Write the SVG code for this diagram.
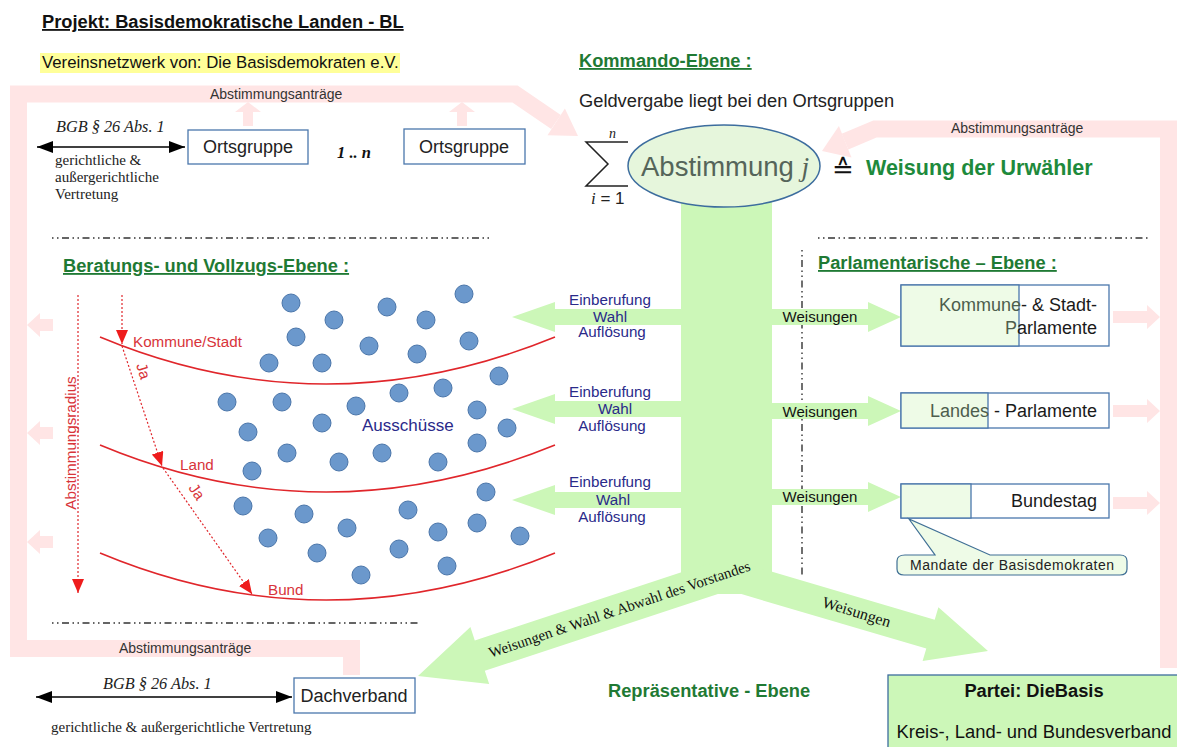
<svg xmlns="http://www.w3.org/2000/svg" width="1177" height="747" viewBox="0 0 1177 747">
<defs>
<style>
.sans{font-family:"Liberation Sans",Arial,sans-serif}
.serif{font-family:"Liberation Serif","Times New Roman",serif}
.head{font-family:"Liberation Sans",Arial,sans-serif;font-weight:bold;fill:#1f7a34;font-size:18.3px}
.ul{text-decoration:underline}
.pink{fill:#ffe5e5}
.pinkline{fill:none;stroke:#ffe5e5;stroke-width:17;stroke-linejoin:miter}
.green{fill:#ccf7b8}
.sep{stroke:#333;stroke-width:1.4;stroke-dasharray:1.5 3.5 1.5 3.5 7 3.5;fill:none}
.box{fill:#fff;stroke:#4b77ac;stroke-width:1.3}
.gbox{fill:#eefbe7;stroke:#4b77ac;stroke-width:1.3}
.dot{fill:#6b98cc;stroke:#4b76aa;stroke-width:1}
.red{fill:none;stroke:#e0262b;stroke-width:1.6}
.reddot{fill:none;stroke:#e0262b;stroke-width:1.2;stroke-dasharray:2 2}
.redtxt{fill:#d8343a;font-family:"Liberation Sans",Arial,sans-serif;font-size:15.2px}
.navy{fill:#2a2a8a;font-family:"Liberation Sans",Arial,sans-serif;font-size:15.2px;text-anchor:middle}
.pinktxt{font-family:"Liberation Sans",Arial,sans-serif;font-size:14px;fill:#333}
.blk{fill:none;stroke:#000;stroke-width:1.5}
</style>
<marker id="bh" viewBox="0 0 16 12" refX="16" refY="6" markerWidth="16" markerHeight="12" markerUnits="userSpaceOnUse" orient="auto-start-reverse"><path d="M0,0 L16,6 L0,12 Z" fill="#000"/></marker>
<marker id="rh" viewBox="0 0 14 12" refX="14" refY="6" markerWidth="14" markerHeight="12" markerUnits="userSpaceOnUse" orient="auto"><path d="M0,0 L14,6 L0,12 Z" fill="#ee1c1c"/></marker>
</defs>

<!-- pink feedback bands -->
<g id="pink-bands">
<polyline class="pinkline" points="556,122 515,94 18.5,94 18.5,648.5 351.5,648.5 351.5,675"/>
<polygon class="pink" points="578,136 547.5,135.2 564.9,108.4"/>
<polyline class="pinkline" points="1168.5,668 1168.5,129 875,129 845,141.7"/>
<polygon class="pink" points="822,151 851.5,157.5 838.9,125.9"/>
<path class="pink" d="M243,126 V112 H235 L248,102 L261,112 H253 V126 Z"/>
<path class="pink" d="M457,126 V112 H449 L462,102 L475,112 H467 V126 Z"/>
<path class="pink" d="M53,319 H40 V313 L27,325 L40,337 V331 H53 Z"/>
<path class="pink" d="M53,427 H40 V421 L27,433 L40,445 V439 H53 Z"/>
<path class="pink" d="M53,536 H40 V530 L27,542 L40,554 V548 H53 Z"/>
<path class="pink" d="M1113,311 H1147 V305 L1160,317 L1147,329 V323 H1113 Z"/>
<path class="pink" d="M1113,405 H1147 V399 L1160,411 L1147,423 V417 H1113 Z"/>
<path class="pink" d="M1113,497 H1147 V491 L1160,503 L1147,515 V509 H1113 Z"/>
<text class="pinktxt" x="210" y="99">Abstimmungsanträge</text>
<text class="pinktxt" x="951" y="133">Abstimmungsanträge</text>
<text class="pinktxt" x="119" y="653">Abstimmungsanträge</text>
</g>

<!-- header texts -->
<g id="header">
<text class="sans ul" x="42" y="28" font-size="18.3" font-weight="bold" fill="#111">Projekt: Basisdemokratische Landen - BL</text>
<rect x="40" y="53" width="360" height="20" fill="#ffff99"/>
<text class="sans" x="42" y="68" font-size="16.8" fill="#111">Vereinsnetzwerk von: Die Basisdemokraten e.V.</text>
<text class="head ul" x="579" y="67">Kommando-Ebene :</text>
<text class="sans" x="579" y="107" font-size="18.3" fill="#222">Geldvergabe liegt bei den Ortsgruppen</text>
</g>

<!-- separators -->
<g id="separators">
<line class="sep" x1="52" y1="238" x2="492" y2="238"/>
<line class="sep" x1="818" y1="238" x2="1150" y2="238"/>
<line class="sep" x1="52" y1="623" x2="420" y2="623"/>
<line class="sep" x1="802" y1="250" x2="802" y2="575"/>
</g>

<!-- green connectors -->
<g id="connectors">
<rect class="green" x="681" y="200" width="91" height="394"/>
<polygon class="green" points="418,676 470.4,627.1 474.8,640.4 709.4,563.1 719.4,593.5 484.8,670.8 489.2,684.1"/>
<polygon class="green" points="988,651 938.4,607.2 934.7,619.7 744.8,563.8 736.4,592.6 926.3,648.5 922.6,661"/>
<path class="green" d="M681,309 H555 V302 L512,317 L555,332 V325 H681 Z"/>
<path class="green" d="M681,401 H555 V394 L512,409 L555,424 V417 H681 Z"/>
<path class="green" d="M681,492 H555 V485 L512,500 L555,515 V508 H681 Z"/>
<path class="green" d="M772,309 H868 V302 L901,317 L868,332 V325 H772 Z"/>
<path class="green" d="M772,403 H868 V396 L901,411 L868,426 V419 H772 Z"/>
<path class="green" d="M772,489 H868 V482 L901,497 L868,512 V505 H772 Z"/>
<text class="navy" x="610" y="305">Einberufung</text>
<text class="navy" x="610" y="322">Wahl</text>
<text class="navy" x="612" y="337">Auflösung</text>
<text class="navy" x="610" y="397">Einberufung</text>
<text class="navy" x="615" y="414">Wahl</text>
<text class="navy" x="612" y="431">Auflösung</text>
<text class="navy" x="610" y="487">Einberufung</text>
<text class="navy" x="613" y="505">Wahl</text>
<text class="navy" x="612" y="522">Auflösung</text>
<text class="sans" x="820" y="322" font-size="15" text-anchor="middle" fill="#111">Weisungen</text>
<text class="sans" x="820" y="417" font-size="15" text-anchor="middle" fill="#111">Weisungen</text>
<text class="sans" x="820" y="502" font-size="15" text-anchor="middle" fill="#111">Weisungen</text>
<text class="serif" transform="translate(621,614) rotate(-18.6)" font-size="15" text-anchor="middle" fill="#111">Weisungen &amp; Wahl &amp; Abwahl des Vorstandes</text>
<text class="serif" transform="translate(855,617) rotate(17)" font-size="16" text-anchor="middle" fill="#111">Weisungen</text>
</g>

<!-- Abstimmung node -->
<g id="abstimmung">
<path d="M628,142 H586 L608,164 L586,186 H628" fill="none" stroke="#222" stroke-width="1.5"/>
<text class="serif" x="609" y="138" font-size="14" font-style="italic" fill="#222">n</text>
<text x="591" y="204" font-size="17" fill="#222"><tspan class="serif" font-style="italic">i</tspan><tspan class="sans"> = 1</tspan></text>
<ellipse cx="724" cy="166" rx="96" ry="41" fill="#e6f6dc" stroke="#3d6d9e" stroke-width="1.5"/>
<text x="641" y="176" font-size="27.5" fill="#55655a"><tspan class="sans">Abstimmung </tspan><tspan class="serif" font-style="italic">j</tspan></text>
<text x="832" y="178" font-size="26" fill="#111" font-family="DejaVu Sans,sans-serif">≙</text>
<text class="sans" x="866" y="175" font-size="21.5" font-weight="bold" fill="#1e8a3c">Weisung der Urwähler</text>
</g>

<!-- Ortsgruppen -->
<g id="ortsgruppe1">
<rect class="box" x="188" y="130" width="120" height="34"/>
<text class="sans" x="248" y="153" font-size="18" text-anchor="middle" fill="#222">Ortsgruppe</text>
</g>
<g id="ortsgruppe2">
<rect class="box" x="404" y="129" width="121" height="35"/>
<text class="sans" x="464" y="153" font-size="18" text-anchor="middle" fill="#222">Ortsgruppe</text>
</g>
<text class="serif" x="337" y="158" font-size="16.5" font-weight="bold" font-style="italic" fill="#111">1 .. n</text>
<g id="bgb-top">
<line class="blk" x1="37" y1="147" x2="185" y2="147" marker-start="url(#bh)" marker-end="url(#bh)"/>
<text class="serif" x="56" y="132" font-size="16.3" font-style="italic" fill="#222">BGB § 26 Abs. 1</text>
<text class="serif" x="55" y="165" font-size="15" fill="#222">gerichtliche &amp;</text>
<text class="serif" x="55" y="182" font-size="15" fill="#222">außergerichtliche</text>
<text class="serif" x="55" y="199" font-size="15" fill="#222">Vertretung</text>
</g>

<!-- Beratungs- und Vollzugs-Ebene -->
<g id="beratung">
<text class="head ul" x="63" y="272">Beratungs- und Vollzugs-Ebene :</text>
<path class="red" d="M100,337 Q325,431 555,337"/>
<path class="red" d="M100,445 Q325,539 555,445"/>
<path class="red" d="M100,553 Q325,647 555,553"/>
<text class="redtxt" x="133" y="347">Kommune/Stadt</text>
<text class="redtxt" x="180" y="470">Land</text>
<text class="redtxt" x="268" y="595">Bund</text>
<line class="reddot" x1="78" y1="295" x2="78" y2="593" marker-end="url(#rh)"/>
<line class="reddot" x1="122" y1="295" x2="122" y2="344" marker-end="url(#rh)"/>
<line class="reddot" x1="122" y1="346" x2="162" y2="466" marker-end="url(#rh)"/>
<line class="reddot" x1="163" y1="468" x2="252" y2="594" marker-end="url(#rh)"/>
<text class="redtxt" transform="translate(76,443) rotate(-90)" font-size="17" text-anchor="middle">Abstimmungsradius</text>
<text class="redtxt" transform="translate(136,365) rotate(72)" font-size="13.5">Ja</text>
<text class="redtxt" transform="translate(188,488) rotate(55)" font-size="13.5">Ja</text>
<g id="ausschuesse">
<circle class="dot" cx="291" cy="303" r="9"/><circle class="dot" cx="334" cy="320" r="9"/><circle class="dot" cx="387" cy="307" r="9"/><circle class="dot" cx="426" cy="320" r="9"/><circle class="dot" cx="464" cy="294" r="9"/><circle class="dot" cx="296" cy="337" r="9"/><circle class="dot" cx="369" cy="346" r="9"/><circle class="dot" cx="417" cy="354" r="9"/><circle class="dot" cx="469" cy="341" r="9"/><circle class="dot" cx="269" cy="363" r="9"/><circle class="dot" cx="322" cy="363" r="9"/>
<circle class="dot" cx="227" cy="402" r="9"/><circle class="dot" cx="282" cy="402" r="9"/><circle class="dot" cx="356" cy="406" r="9"/><circle class="dot" cx="399" cy="393" r="9"/><circle class="dot" cx="443" cy="388" r="9"/><circle class="dot" cx="499" cy="376" r="9"/><circle class="dot" cx="477" cy="410" r="9"/><circle class="dot" cx="507" cy="428" r="9"/><circle class="dot" cx="248" cy="432" r="9"/><circle class="dot" cx="322" cy="423" r="9"/><circle class="dot" cx="477" cy="443" r="9"/><circle class="dot" cx="287" cy="453" r="9"/><circle class="dot" cx="339" cy="462" r="9"/><circle class="dot" cx="382" cy="453" r="9"/><circle class="dot" cx="438" cy="462" r="9"/><circle class="dot" cx="252" cy="471" r="9"/>
<circle class="dot" cx="486" cy="492" r="9"/><circle class="dot" cx="243" cy="506" r="9"/><circle class="dot" cx="304" cy="514" r="9"/><circle class="dot" cx="408" cy="510" r="9"/><circle class="dot" cx="347" cy="528" r="9"/><circle class="dot" cx="438" cy="532" r="9"/><circle class="dot" cx="477" cy="523" r="9"/><circle class="dot" cx="520" cy="536" r="9"/><circle class="dot" cx="268" cy="538" r="9"/><circle class="dot" cx="317" cy="553" r="9"/><circle class="dot" cx="399" cy="549" r="9"/><circle class="dot" cx="447" cy="566" r="9"/><circle class="dot" cx="361" cy="575" r="9"/>
<text class="sans" x="362" y="431" font-size="17" fill="#2a2a8a">Ausschüsse</text>
</g>
</g>

<!-- Parlamentarische Ebene -->
<text class="head ul" x="818" y="269">Parlamentarische – Ebene :</text>
<g id="parl-kommune">
<rect class="box" x="901" y="285" width="208" height="61"/>
<rect class="gbox" x="901" y="285" width="118" height="61"/>
<text class="sans" x="1097" y="311" font-size="18" text-anchor="end"><tspan fill="#4d5e4d">Kommune</tspan><tspan fill="#1a1a1a">- &amp; Stadt-</tspan></text>
<text class="sans" x="1097" y="334" font-size="18" text-anchor="end"><tspan fill="#4d5e4d">P</tspan><tspan fill="#1a1a1a">arlamente</tspan></text>
</g>
<g id="parl-landes">
<rect class="box" x="901" y="393" width="208" height="35"/>
<rect class="gbox" x="901" y="393" width="87" height="35"/>
<text class="sans" x="1097" y="417" font-size="18" text-anchor="end"><tspan fill="#4d5e4d">Landes</tspan><tspan fill="#1a1a1a"> - Parlamente</tspan></text>
</g>
<g id="parl-bundestag">
<rect class="box" x="901" y="484" width="208" height="34"/>
<rect class="gbox" x="901" y="484" width="70" height="34"/>
<text class="sans" x="1097" y="507" font-size="18" text-anchor="end" fill="#1a1a1a">Bundestag</text>
</g>
<g id="mandate">
<path d="M905,555 L935,555 L909,519 L990,555 L1120,555 Q1127,555 1127,561 L1127,569 Q1127,575 1120,575 L904,575 Q897,575 897,569 L897,561 Q897,555 905,555 Z" fill="#eefbe7" stroke="#3f6f95" stroke-width="1.2"/>
<text class="sans" x="1012" y="570" font-size="14" text-anchor="middle" fill="#222" textLength="204">Mandate der Basisdemokraten</text>
</g>

<!-- Repräsentative Ebene -->
<text class="sans" x="608" y="697" font-size="18.3" font-weight="bold" fill="#1f7a34">Repräsentative - Ebene</text>
<g id="dachverband">
<rect class="box" x="294" y="678" width="121" height="35"/>
<text class="sans" x="354" y="702" font-size="18" text-anchor="middle" fill="#222">Dachverband</text>
</g>
<g id="bgb-bottom">
<line class="blk" x1="36" y1="697" x2="292" y2="697" marker-start="url(#bh)" marker-end="url(#bh)"/>
<text class="serif" x="103" y="689" font-size="16.3" font-style="italic" fill="#222">BGB § 26 Abs. 1</text>
<text class="serif" x="51" y="732" font-size="15" fill="#222">gerichtliche &amp; außergerichtliche Vertretung</text>
</g>
<g id="partei">
<rect x="888" y="675" width="295" height="80" fill="#ccf7b8" stroke="#3d6d9e" stroke-width="1.3"/>
<text class="sans" x="1034" y="697" font-size="18.3" font-weight="bold" text-anchor="middle" fill="#111">Partei: DieBasis</text>
<text class="sans" x="1034" y="738" font-size="18.4" text-anchor="middle" fill="#111">Kreis-, Land- und Bundesverband</text>
</g>
</svg>
